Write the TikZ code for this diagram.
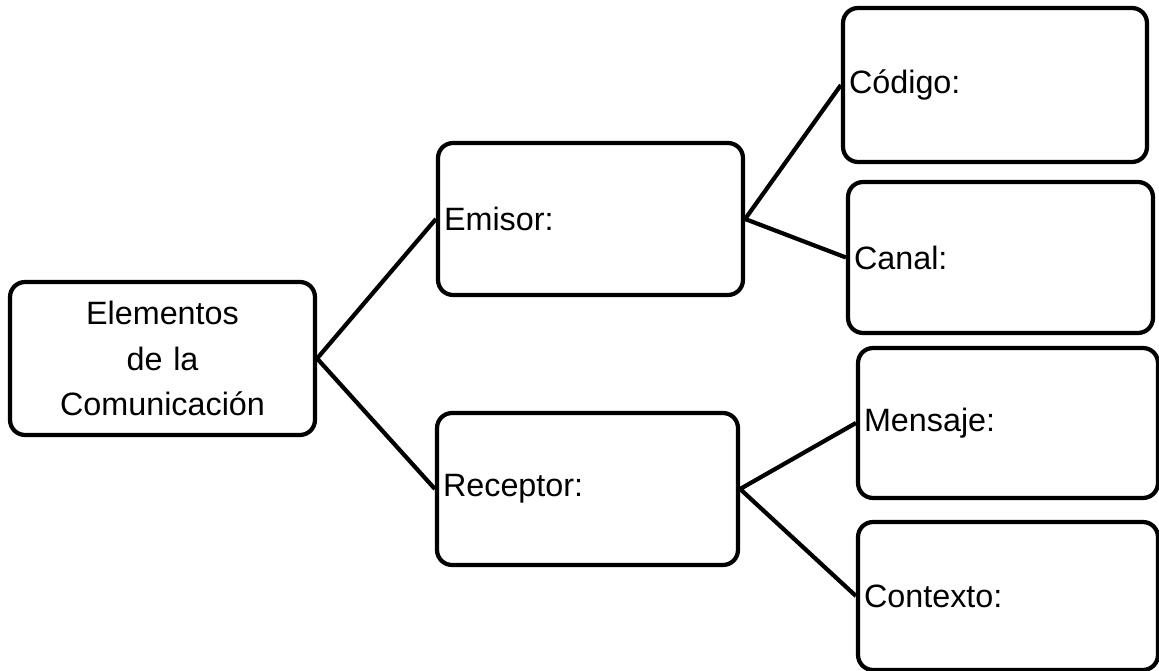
\documentclass[tikz,border=0pt]{standalone}
\usepackage{fontspec}
\setmainfont{Liberation Sans}
\tikzset{caja/.style={draw,line width=2.4pt,rounded corners=0.3cm,inner xsep=0.12cm,align=left,font=\fontsize{18.4}{26}\selectfont}}
\begin{document}
\begin{tikzpicture}[x=0.02cm,y=-0.02cm]
\useasboundingbox (0,0) rectangle (1159,671);
\node[caja,align=center,text width=5.86cm,minimum height=3.06cm] (elem) at (162.5,358.5){Elementos\\de la\\Comunicación};
\node[caja,text width=5.86cm,minimum height=3.04cm] (emisor) at (590.5,219){Emisor:};
\node[caja,text width=5.78cm,minimum height=3.04cm] (receptor) at (587.5,489){Receptor:};
\node[caja,text width=5.84cm,minimum height=3.08cm] (codigo) at (995,85){Código:};
\node[caja,text width=5.86cm,minimum height=3.02cm] (canal) at (1000.5,257.5){Canal:};
\node[caja,text width=5.76cm,minimum height=3cm] (mensaje) at (1008,423){Mensaje:};
\node[caja,text width=5.76cm,minimum height=2.96cm] (contexto) at (1008,596){Contexto:};
\draw[line width=2.4pt](emisor.west)--(elem.east)--(receptor.west);
\draw[line width=2.4pt](codigo.west)--(emisor.east)--(canal.west);
\draw[line width=2.4pt](mensaje.west)--(receptor.east)--(contexto.west);
\end{tikzpicture}
\end{document}
